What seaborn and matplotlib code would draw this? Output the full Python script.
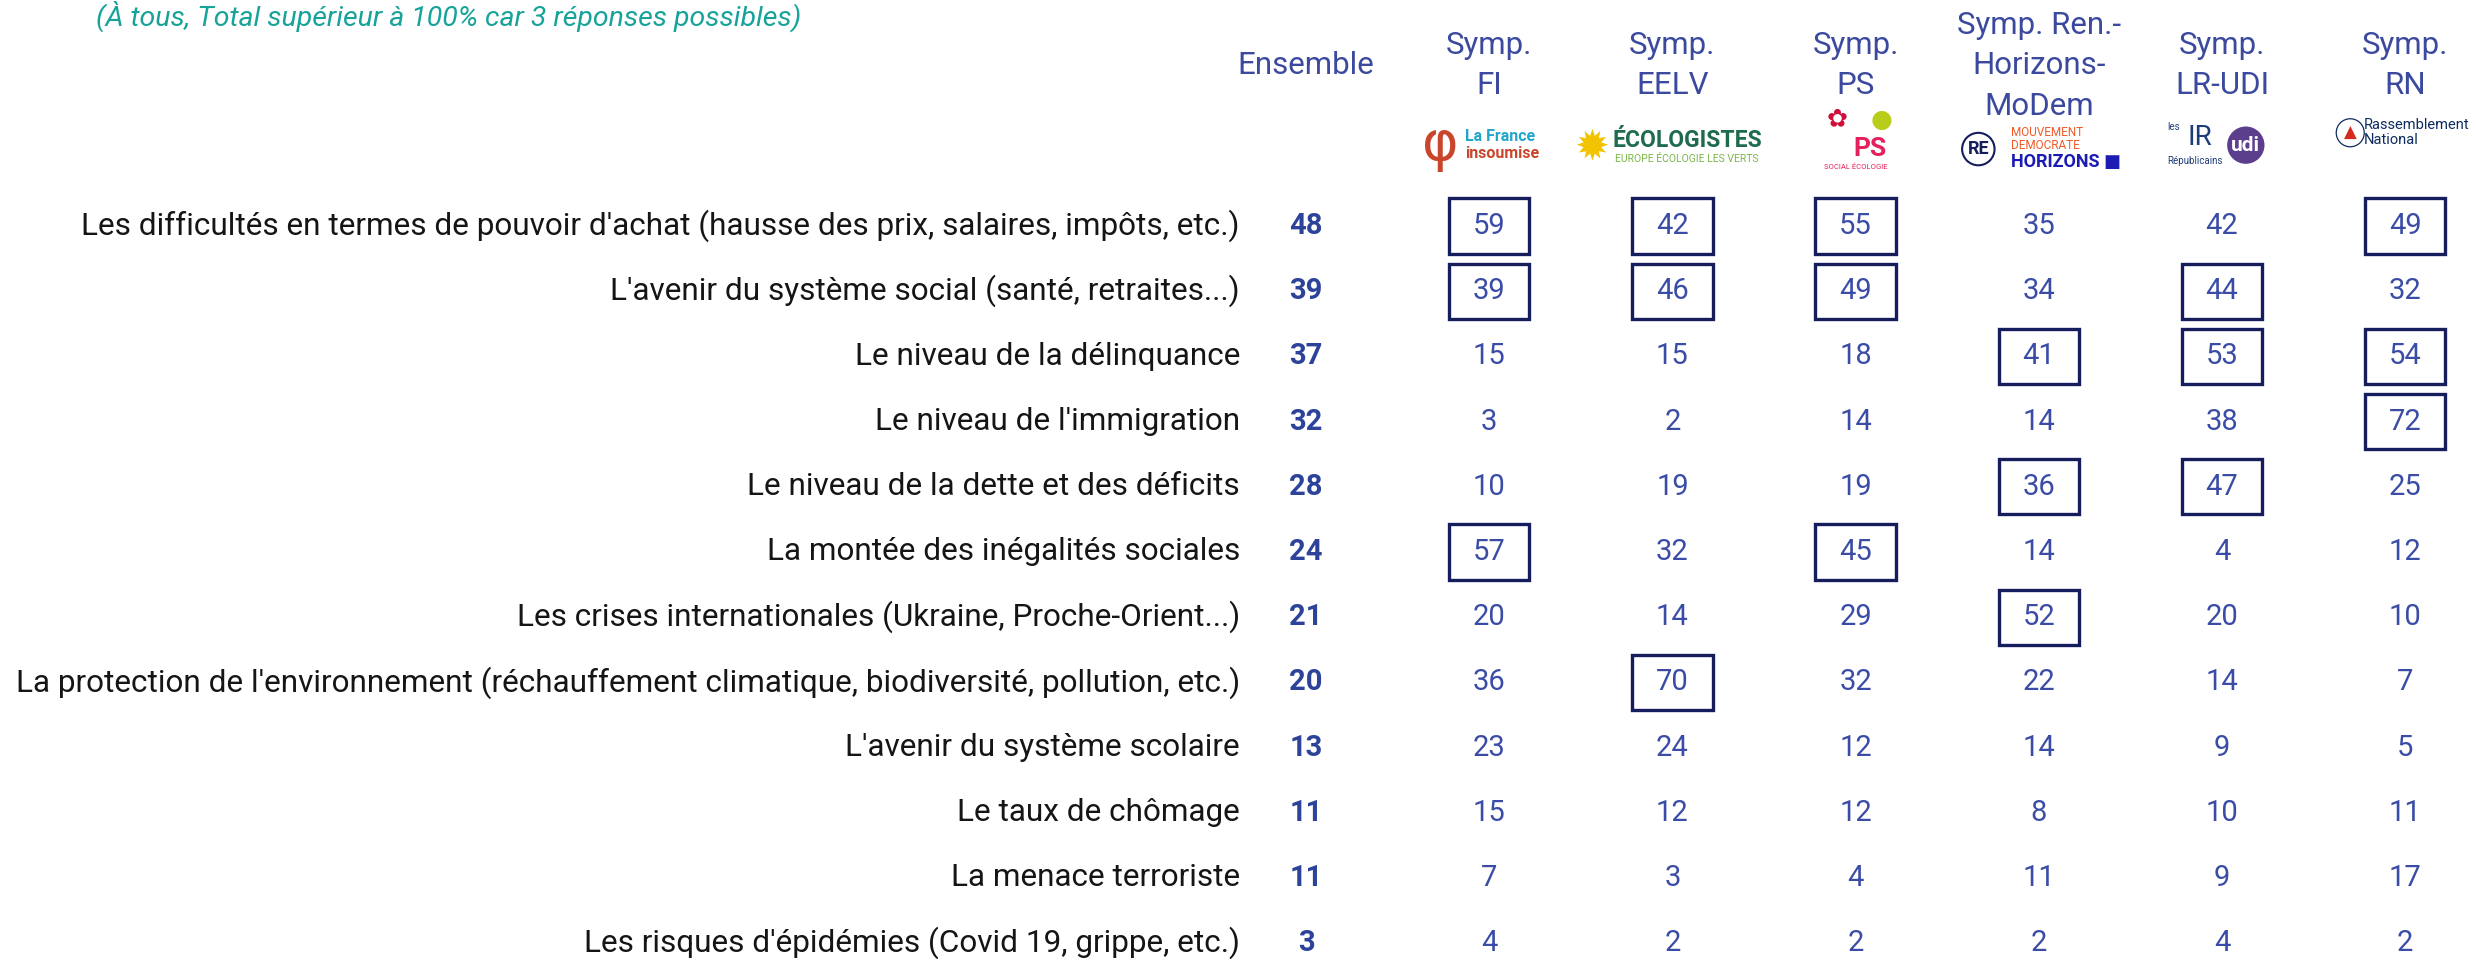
import numpy as np
import pandas as pd
import seaborn as sns
import matplotlib.pyplot as plt
from matplotlib.colors import ListedColormap
from matplotlib.patches import Rectangle

# Data
items = [
    "Les difficultés en termes de pouvoir d'achat (hausse des prix, salaires, impôts, etc.)",
    "L'avenir du système social (santé, retraites...)",
    "Le niveau de la délinquance",
    "Le niveau de l'immigration",
    "Le niveau de la dette et des déficits",
    "La montée des inégalités sociales",
    "Les crises internationales (Ukraine, Proche-Orient...)",
    "La protection de l'environnement (réchauffement climatique, biodiversité, pollution, etc.)",
    "L'avenir du système scolaire",
    "Le taux de chômage",
    "La menace terroriste",
    "Les risques d'épidémies (Covid 19, grippe, etc.)",
]
headers = ["Ensemble", "Symp.\nFI", "Symp.\nEELV", "Symp.\nPS",
           "Symp. Ren.-\nHorizons-\nMoDem", "Symp.\nLR-UDI", "Symp.\nRN"]

ensemble = [48, 39, 37, 32, 28, 24, 21, 20, 13, 11, 11, 3]
symp_fi = [59, 39, 15, 3, 10, 57, 20, 36, 23, 15, 7, 4]
symp_eelv = [42, 46, 15, 2, 19, 32, 14, 70, 24, 12, 3, 2]
symp_ps = [55, 49, 18, 14, 19, 45, 29, 32, 12, 12, 4, 2]
symp_ren = [35, 34, 41, 14, 36, 14, 52, 22, 14, 8, 11, 2]
symp_lr = [42, 44, 53, 38, 47, 4, 20, 14, 9, 10, 9, 4]
symp_rn = [49, 32, 54, 72, 25, 12, 10, 7, 5, 11, 17, 2]

# cells highlighted with a frame (row, column)
boxed = [(0, 1), (0, 2), (0, 3), (0, 6),
         (1, 1), (1, 2), (1, 3), (1, 5),
         (2, 4), (2, 5), (2, 6),
         (3, 6),
         (4, 4), (4, 5),
         (5, 1), (5, 3),
         (6, 4),
         (7, 2)]

subtitle = "(À tous, Total supérieur à 100% car 3 réponses possibles)"

df = pd.DataFrame({
    "Ensemble": ensemble, "FI": symp_fi, "EELV": symp_eelv, "PS": symp_ps,
    "Ren": symp_ren, "LR": symp_lr, "RN": symp_rn,
}, index=items)

sns.set_theme(style="white")
plt.rcParams['font.family'] = ['Roboto', 'DejaVu Sans']

VAL = "#3a4ca6"
BOLD = "#2c4399"
HEAD = "#3b4a9e"
NAVY = "#161d5c"

W, H = 2476, 960
fig = plt.figure(figsize=(W / 100, H / 100), dpi=100)
# table area: column centres 1306..2405 px, row centres 226..943 px
ax = fig.add_axes([1214.4 / W, (H - 975.8) / H, 1282.4 / W, 782.4 / H])

sns.heatmap(df, ax=ax, cmap=ListedColormap(["white"]), cbar=False,
            annot=True, fmt="d", xticklabels=False, yticklabels=True,
            annot_kws={"fontsize": 21, "color": VAL})
ax.set_axisbelow(False)

for k, t in enumerate(ax.texts):
    if k % 7 == 0:
        t.set_fontweight("bold")
        t.set_color(BOLD)

plt.setp(ax.get_yticklabels(), rotation=0, fontsize=22.7, color="#151515")
ax.tick_params(axis="y", length=0, pad=-18.4)
ax.set_xlabel("")
ax.set_ylabel("")

for (r, c) in boxed:
    ax.add_patch(Rectangle((c + 0.5 - 0.219, r + 0.5 - 0.422), 0.438, 0.844,
                           fill=False, edgecolor=NAVY, lw=2.4, clip_on=False,
                           zorder=3))

# column headers
for j, h in enumerate(headers):
    ax.text(j + 0.5, -1.96, h, ha="center", va="center", fontsize=22.5,
            color=HEAD, linespacing=1.5)

# rough logo stand-ins under each header
ly = -0.74
ax.text(1.235, ly, "φ", ha="center", va="center", fontsize=40,
        color="#c9462c", family="DejaVu Sans")
ax.text(1.37, ly - 0.13, "La France", ha="left", va="center",
        fontsize=11.5, color="#22a7cc", fontweight="bold")
ax.text(1.37, ly + 0.13, "insoumise", ha="left", va="center",
        fontsize=11.5, color="#c9462c", fontweight="bold")

ax.text(2.06, ly + 0.03, "✹", ha="center", va="center", fontsize=30,
        color="#f2c300", family="DejaVu Sans")
ax.text(2.58, ly - 0.07, "ÉCOLOGISTES", ha="center", va="center",
        fontsize=16.5, color="#1f6b4e", fontweight="bold")
ax.text(2.58, ly + 0.22, "EUROPE ÉCOLOGIE LES VERTS", ha="center",
        va="center", fontsize=7.5, color="#7ab648")

ax.text(3.64, ly - 0.38, "●", ha="center", va="center", fontsize=18,
        color="#b8cc1a", family="DejaVu Sans")
ax.text(3.4, ly - 0.4, "✿", ha="center", va="center", fontsize=18,
        color="#d0103a", family="DejaVu Sans")
ax.text(3.58, ly + 0.06, "PS", ha="center", va="center", fontsize=19,
        color="#e5205a", fontweight="bold")
ax.text(3.5, ly + 0.33, "SOCIAL ÉCOLOGIE", ha="center", va="center",
        fontsize=5.5, color="#e5205a")

ax.text(4.17, ly + 0.06, "RE", ha="center", va="center", fontsize=13,
        color=NAVY, fontweight="bold",
        bbox=dict(boxstyle="circle,pad=0.3", fc="white", ec=NAVY, lw=1.5))
ax.text(4.35, ly - 0.1, "MOUVEMENT\nDEMOCRATE", ha="left", va="center",
        fontsize=8.5, color="#f05a28", linespacing=1.0)
ax.text(4.35, ly + 0.26, "HORIZONS ■", ha="left", va="center",
        fontsize=13, color="#1c1cb4", fontweight="bold")

ax.text(5.2, ly - 0.28, "les", ha="left", va="center", fontsize=7,
        color="#1f3d7a")
ax.text(5.38, ly - 0.12, "IR", ha="center", va="center", fontsize=20,
        color="#1f3d7a")
ax.text(5.35, ly + 0.25, "Républicains", ha="center", va="center",
        fontsize=7, color="#1f3d7a")
ax.text(5.63, ly, "udi", ha="center", va="center", fontsize=15,
        color="white", fontweight="bold",
        bbox=dict(boxstyle="circle,pad=0.2", fc="#5b3f8c", ec="none"))

ax.text(6.2, -0.93, "▲", ha="center", va="center", fontsize=12,
        color="#d52b1e", family="DejaVu Sans",
        bbox=dict(boxstyle="circle,pad=0.3", fc="white", ec="#0d2b5e", lw=0.9))
ax.text(6.275, -0.93, "Rassemblement\nNational", ha="left", va="center",
        fontsize=10.5, color="#0d2b5e", linespacing=1.05)

fig.text(96 / W, 1 - 26 / H, subtitle, ha="left", va="baseline",
         fontsize=20.5, color="#17a39a", style="italic")

fig.savefig("out.png", dpi=100, facecolor="white")
